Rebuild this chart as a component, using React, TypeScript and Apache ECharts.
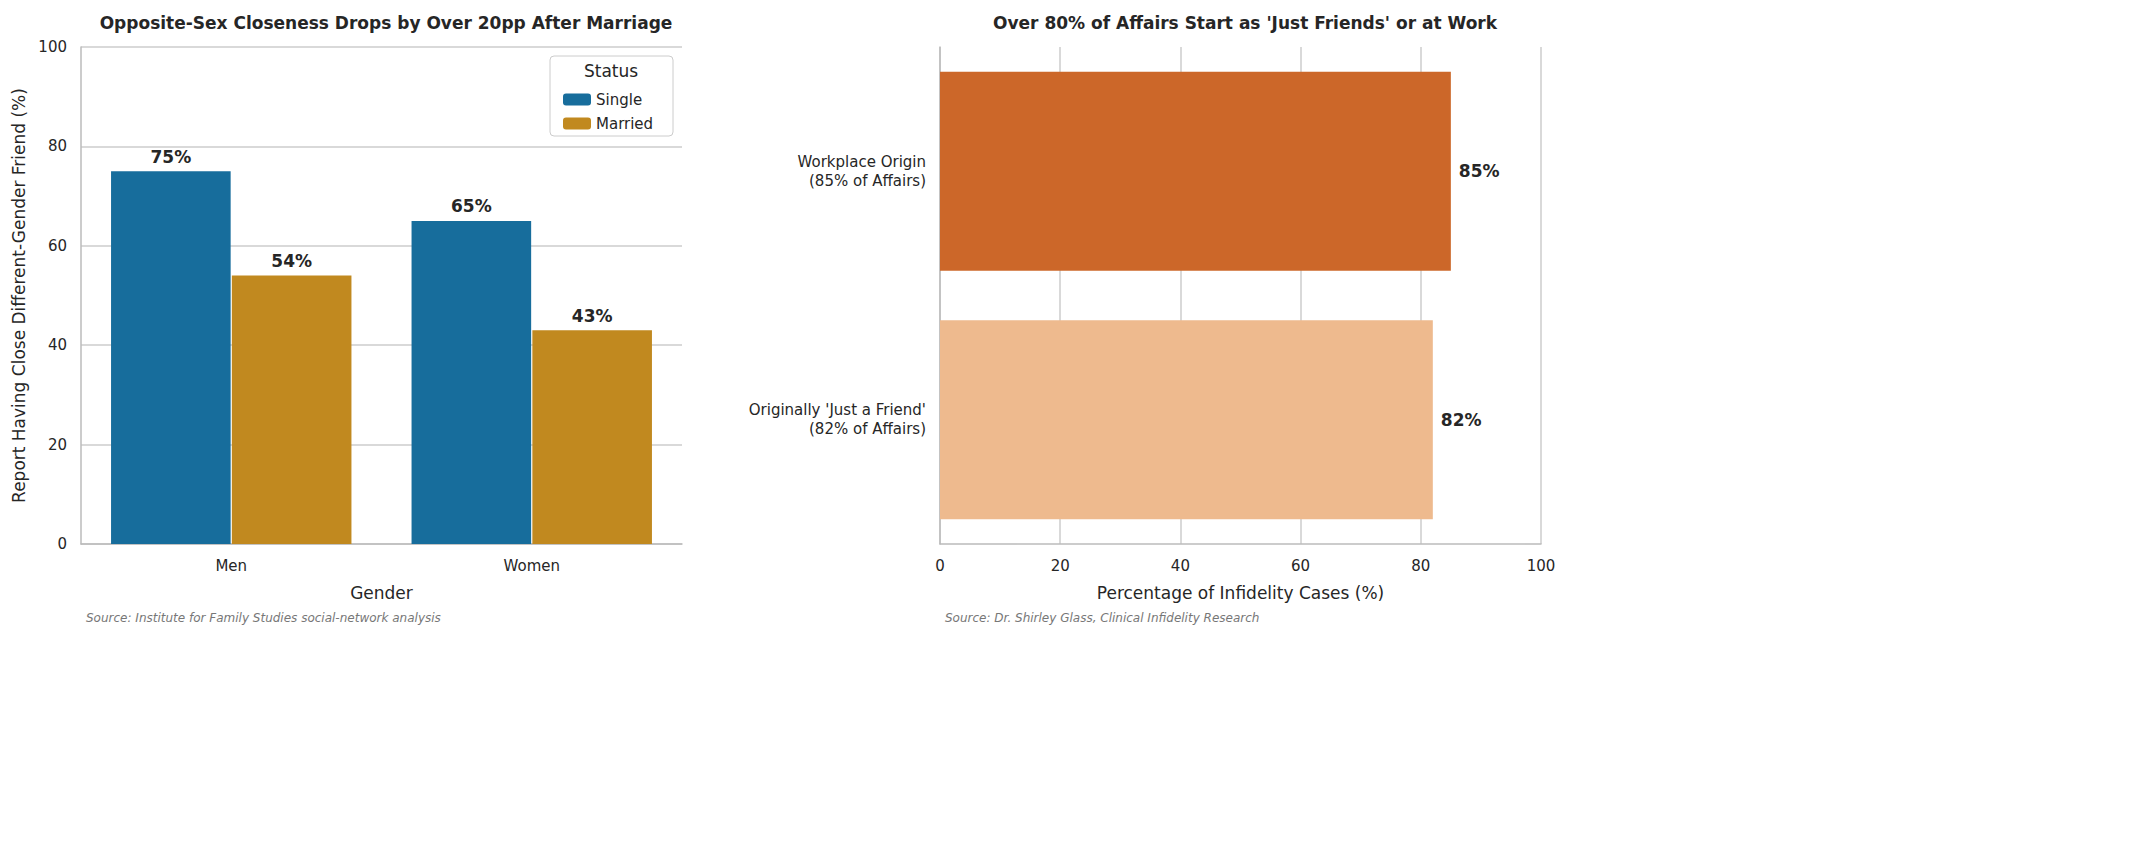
import React, { useEffect, useRef } from "react";
import * as echarts from "echarts";

const genders = ["Men", "Women"];
const singleVals = [75, 65];
const marriedVals = [54, 43];
const affairCats = ["Originally 'Just a Friend'\n(82% of Affairs)", "Workplace Origin\n(85% of Affairs)"];
const affairVals = [82, 85];
const affairColors = ["#eeba8e", "#cc6729"];

const FONT = "DejaVu Sans";
const TXT = "#262626";
const GRIDC = "#cccccc";

export default function App() {
  const ref = useRef<HTMLDivElement>(null);
  useEffect(() => {
    const chart = echarts.init(ref.current!, null, { renderer: "svg" });
    const axisLine = { show: true, lineStyle: { color: "#bbbbbb", width: 1.5 } };
    const label = (pos: string) => ({
      show: true, position: pos, formatter: "{c}%", fontSize: 17, fontWeight: "bold", color: TXT, fontFamily: FONT, distance: 6,
    });
    chart.setOption({
      animation: false,
      textStyle: { fontFamily: FONT },
      title: [
        { text: "Opposite-Sex Closeness Drops by Over 20pp After Marriage", left: 381, top: 9, textAlign: "center", textStyle: { fontSize: 17, fontWeight: "bold", color: TXT, fontFamily: FONT } },
        { text: "Over 80% of Affairs Start as 'Just Friends' or at Work", left: 1240, top: 9, textAlign: "center", textStyle: { fontSize: 17, fontWeight: "bold", color: TXT, fontFamily: FONT } },
        { text: "Source: Institute for Family Studies social-network analysis", left: 81, top: 607, textStyle: { fontSize: 12, fontStyle: "italic", fontWeight: "normal", color: "#777", fontFamily: FONT } },
        { text: "Source: Dr. Shirley Glass, Clinical Infidelity Research", left: 940, top: 607, textStyle: { fontSize: 12, fontStyle: "italic", fontWeight: "normal", color: "#777", fontFamily: FONT } },
      ],
      legend: {
        data: ["Single", "Married"], orient: "vertical", left: 558, top: 87, itemWidth: 28, itemHeight: 12, itemGap: 9,
        textStyle: { fontSize: 15, color: TXT, fontFamily: FONT },
      },
      graphic: [
        { type: "rect", shape: { x: 550, y: 56, width: 123, height: 80, r: 4 }, style: { fill: "rgba(255,255,255,0.8)", stroke: "#cccccc", lineWidth: 1 }, z: -1 },
        { type: "text", x: 611, y: 62, style: { text: "Status", fontSize: 17, fill: TXT, fontFamily: FONT, textAlign: "center" } },
      ],
      grid: [
        { left: 81, top: 47, width: 601, height: 497 },
        { left: 940, top: 47, width: 601, height: 497 },
      ],
      xAxis: [
        { type: "category", gridIndex: 0, data: genders, axisLine, axisTick: { show: false },
          axisLabel: { fontSize: 15, color: TXT, margin: 14 }, name: "Gender", nameLocation: "middle", nameGap: 40,
          nameTextStyle: { fontSize: 17, color: TXT } },
        { type: "value", gridIndex: 1, min: 0, max: 100, interval: 20, axisLine, axisTick: { show: false },
          splitLine: { show: true, lineStyle: { color: GRIDC, width: 1.5 } },
          axisLabel: { fontSize: 15, color: TXT, margin: 14 }, name: "Percentage of Infidelity Cases (%)", nameLocation: "middle", nameGap: 40,
          nameTextStyle: { fontSize: 17, color: TXT } },
      ],
      yAxis: [
        { type: "value", gridIndex: 0, min: 0, max: 100, interval: 20, axisLine, axisTick: { show: false },
          splitLine: { show: true, lineStyle: { color: GRIDC, width: 1.5 } },
          axisLabel: { fontSize: 15, color: TXT, margin: 14 }, name: "Report Having Close Different-Gender Friend (%)",
          nameLocation: "middle", nameGap: 54, nameTextStyle: { fontSize: 17, color: TXT } },
        { type: "category", gridIndex: 1, data: affairCats, axisLine, axisTick: { show: false },
          axisLabel: { fontSize: 15, color: TXT, margin: 14, lineHeight: 19, align: "right" } },
      ],
      series: [
        { name: "Single", type: "bar", xAxisIndex: 0, yAxisIndex: 0, data: singleVals, barCategoryGap: "20%", barGap: "1%",
          itemStyle: { color: "#176d9c" }, label: label("top") },
        { name: "Married", type: "bar", xAxisIndex: 0, yAxisIndex: 0, data: marriedVals, barCategoryGap: "20%", barGap: "1%",
          itemStyle: { color: "#c1891f" }, label: label("top") },
        { name: "Affairs", type: "bar", xAxisIndex: 1, yAxisIndex: 1, barCategoryGap: "20%",
          data: affairVals.map((v, i) => ({ value: v, itemStyle: { color: affairColors[i] } })), label: { ...label("right"), distance: 8 } },
      ],
    });
    return () => chart.dispose();
  }, []);
  return <div ref={ref} style={{ position: "absolute", left: 0, top: 0, width: 2152, height: 868, background: "#fff" }} />;
}
